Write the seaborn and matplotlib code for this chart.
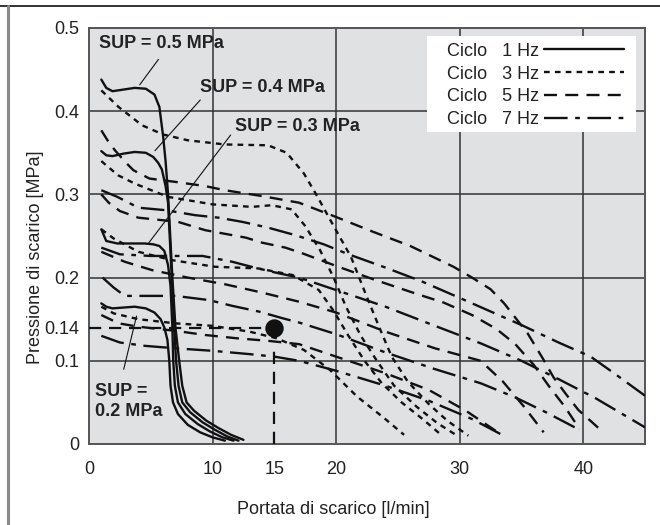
import numpy as np
import pandas as pd
import matplotlib
matplotlib.use("Agg")
import matplotlib.pyplot as plt
from matplotlib.lines import Line2D
from matplotlib.patches import Rectangle
import seaborn as sns

# ---- data ----
# 1 Hz (solid)
s5_x = [1.0, 1.4, 1.9, 2.8, 3.7, 4.6, 5.3, 5.7, 6.0, 6.2, 6.4, 6.75, 7.0, 7.3, 7.55, 7.9, 8.5, 9.5, 10.5, 11.5, 12.5]
s5_y = [0.438, 0.428, 0.424, 0.426, 0.428, 0.427, 0.42, 0.405, 0.37, 0.34, 0.3, 0.2, 0.14, 0.1, 0.07, 0.05, 0.04, 0.028, 0.019, 0.011, 0.005]
s4_x = [1.0, 1.4, 1.9, 2.8, 3.7, 4.6, 5.2, 5.6, 5.9, 6.2, 6.4, 6.7, 6.9, 7.05, 7.25, 7.55, 8.2, 9.2, 10.2, 11.2, 12.1]
s4_y = [0.352, 0.347, 0.346, 0.349, 0.351, 0.35, 0.345, 0.338, 0.33, 0.31, 0.29, 0.2, 0.14, 0.1, 0.07, 0.05, 0.038, 0.026, 0.017, 0.009, 0.004]
s3_x = [1.0, 1.4, 2.3, 3.5, 4.5, 5.2, 5.7, 6.1, 6.4, 6.6, 6.75, 6.82, 6.95, 7.2, 7.8, 8.8, 9.8, 10.8, 11.7]
s3_y = [0.258, 0.244, 0.241, 0.241, 0.241, 0.24, 0.238, 0.232, 0.215, 0.19, 0.14, 0.1, 0.07, 0.05, 0.036, 0.024, 0.015, 0.008, 0.004]
s2_x = [1.0, 1.4, 1.9, 2.8, 3.7, 4.6, 5.3, 5.8, 6.1, 6.35, 6.5, 6.6, 6.8, 7.2, 8.0, 9.0, 10.0, 11.0]
s2_y = [0.169, 0.165, 0.163, 0.164, 0.165, 0.163, 0.158, 0.15, 0.14, 0.125, 0.1, 0.07, 0.05, 0.036, 0.023, 0.014, 0.008, 0.004]

# 3 Hz (dotted)
d5_x = [1.0, 2.4, 4.3, 6.0, 8.0, 11.0, 14.5, 16.0, 17.4, 18.5, 19.8, 21.2, 22.4, 23.5, 24.5, 25.8, 27.5, 29.0, 30.7]
d5_y = [0.425, 0.405, 0.383, 0.372, 0.365, 0.36, 0.359, 0.35, 0.325, 0.297, 0.262, 0.225, 0.18, 0.14, 0.105, 0.075, 0.048, 0.028, 0.01]
d4_x = [1.0, 2.35, 3.7, 6.4, 10.0, 13.2, 14.8, 16.4, 17.5, 18.7, 19.8, 20.8, 22.0, 23.3, 24.7, 26.5, 28.2, 29.8]
d4_y = [0.34, 0.323, 0.313, 0.297, 0.288, 0.285, 0.287, 0.282, 0.262, 0.233, 0.2, 0.165, 0.13, 0.1, 0.07, 0.045, 0.025, 0.01]
d3_x = [1.0, 2.0, 4.0, 6.7, 10.2, 13.7, 16.5, 18.6, 19.8, 21.0, 22.3, 23.7, 25.3, 27.0, 28.5]
d3_y = [0.258, 0.247, 0.231, 0.221, 0.213, 0.211, 0.203, 0.185, 0.16, 0.13, 0.1, 0.073, 0.05, 0.03, 0.011]
d2_x = [1.0, 2.0, 4.0, 7.0, 10.0, 13.0, 15.2, 17.4, 19.5, 21.7, 23.9, 25.5]
d2_y = [0.165, 0.157, 0.15, 0.145, 0.142, 0.135, 0.127, 0.113, 0.089, 0.057, 0.031, 0.011]

# 5 Hz (dashed)
q5_x = [1.0, 1.5, 2.1, 3.0, 3.6, 4.9, 7.0, 9.4, 11.0, 14.0, 17.0, 19.8, 23.0, 26.0, 29.5, 31.0, 32.5, 33.6, 34.6, 35.5, 36.8, 37.6, 38.6, 39.6, 41.4]
q5_y = [0.377, 0.365, 0.353, 0.338, 0.329, 0.319, 0.315, 0.31, 0.305, 0.298, 0.29, 0.274, 0.255, 0.238, 0.213, 0.2, 0.186, 0.169, 0.15, 0.133, 0.101, 0.08, 0.06, 0.041, 0.017]
q4_x = [1.0, 1.6, 2.5, 4.0, 7.2, 9.4, 12.7, 14.0, 15.9, 17.3, 20.0, 23.0, 26.6, 28.7, 31.0, 33.0, 34.5, 36.0, 37.2, 38.5, 39.7]
q4_y = [0.3, 0.29, 0.28, 0.272, 0.267, 0.257, 0.248, 0.242, 0.236, 0.229, 0.214, 0.198, 0.18, 0.17, 0.155, 0.138, 0.12, 0.095, 0.07, 0.045, 0.018]
q3_x = [1.0, 2.9, 5.1, 8.0, 11.0, 14.0, 17.0, 20.0, 24.0, 28.0, 31.7, 33.5, 35.2, 36.8]
q3_y = [0.231, 0.219, 0.209, 0.2, 0.192, 0.182, 0.171, 0.158, 0.135, 0.115, 0.1, 0.075, 0.045, 0.014]
q2_x = [1.0, 2.4, 4.0, 7.0, 9.4, 12.0, 14.5, 17.0, 20.0, 24.0, 27.5, 30.5, 33.3]
q2_y = [0.155, 0.145, 0.141, 0.136, 0.131, 0.127, 0.124, 0.12, 0.105, 0.085, 0.065, 0.04, 0.012]

# 7 Hz (dash-dot)
w5_x = [1.0, 2.3, 4.0, 6.2, 8.6, 10.5, 12.4, 14.5, 16.7, 19.0, 21.0, 24.0, 27.0, 30.4, 33.0, 35.0, 38.0, 40.6, 42.5, 45.0]
w5_y = [0.305, 0.297, 0.284, 0.281, 0.275, 0.272, 0.267, 0.26, 0.251, 0.24, 0.228, 0.212, 0.195, 0.173, 0.156, 0.143, 0.122, 0.105, 0.085, 0.058]
w4_x = [1.0, 2.5, 5.0, 7.0, 9.2, 11.6, 13.4, 15.4, 17.0, 20.0, 24.0, 28.0, 31.7, 35.0, 38.0, 41.0, 45.0]
w4_y = [0.236, 0.228, 0.226, 0.226, 0.226, 0.219, 0.212, 0.205, 0.2, 0.185, 0.165, 0.142, 0.121, 0.1, 0.078, 0.055, 0.02]
w3_x = [1.1, 2.0, 2.9, 5.0, 7.0, 9.7, 11.6, 13.8, 15.7, 17.0, 20.0, 24.0, 28.0, 31.7, 34.5, 37.0, 39.7]
w3_y = [0.2, 0.188, 0.178, 0.178, 0.178, 0.173, 0.166, 0.159, 0.151, 0.146, 0.132, 0.11, 0.09, 0.073, 0.056, 0.038, 0.017]
w2_x = [1.0, 2.5, 4.5, 7.0, 10.0, 13.0, 15.0, 17.0, 20.0, 24.0, 27.5, 31.0, 33.3]
w2_y = [0.13, 0.122, 0.118, 0.115, 0.112, 0.108, 0.105, 0.1, 0.088, 0.07, 0.052, 0.03, 0.012]

freq_labels = ["1 Hz", "3 Hz", "5 Hz", "7 Hz"]
sup_labels = ["0.5", "0.4", "0.3", "0.2"]

point_x = [15]
point_y = [0.14]

x_ticks = [0, 10, 15, 20, 30, 40]
y_ticks = [0, 0.1, 0.14, 0.2, 0.3, 0.4, 0.5]
y_tick_labels = ["0", "0.1", "0.14", "0.2", "0.3", "0.4", "0.5"]
x_grid = [10, 20, 30, 40]
y_grid = [0.1, 0.2, 0.3, 0.4]

curves = {
    ("1 Hz", "0.5"): (s5_x, s5_y), ("1 Hz", "0.4"): (s4_x, s4_y),
    ("1 Hz", "0.3"): (s3_x, s3_y), ("1 Hz", "0.2"): (s2_x, s2_y),
    ("3 Hz", "0.5"): (d5_x, d5_y), ("3 Hz", "0.4"): (d4_x, d4_y),
    ("3 Hz", "0.3"): (d3_x, d3_y), ("3 Hz", "0.2"): (d2_x, d2_y),
    ("5 Hz", "0.5"): (q5_x, q5_y), ("5 Hz", "0.4"): (q4_x, q4_y),
    ("5 Hz", "0.3"): (q3_x, q3_y), ("5 Hz", "0.2"): (q2_x, q2_y),
    ("7 Hz", "0.5"): (w5_x, w5_y), ("7 Hz", "0.4"): (w4_x, w4_y),
    ("7 Hz", "0.3"): (w3_x, w3_y), ("7 Hz", "0.2"): (w2_x, w2_y),
}
rows = []
for (f, s), (xs, ys) in curves.items():
    for xv, yv in zip(xs, ys):
        rows.append({"freq": f, "sup": s, "curve": f + s, "x": xv, "y": yv})
df = pd.DataFrame(rows)

sns.set_theme(style="white")
plt.rcParams["font.family"] = ["Liberation Sans", "DejaVu Sans"]
txt = "#222222"

fig = plt.figure(figsize=(6.6, 5.25), dpi=100)
ax = fig.add_axes([0.1348, 0.1543, 0.8425, 0.7924])
ax.set_facecolor("#e0e1e3")

for g in x_grid:
    ax.axvline(g, color="#333333", lw=1.1, zorder=1)
for g in y_grid:
    ax.axhline(g, color="#333333", lw=1.1, zorder=1)

dash_map = {"1 Hz": "", "3 Hz": (2.4, 2.2), "5 Hz": (5.5, 3.5), "7 Hz": (10, 3.2, 2, 3.2)}
sns.lineplot(data=df, x="x", y="y", units="curve", style="freq", dashes=dash_map,
             estimator=None, sort=False, color="#111111", lw=1.7, legend=False,
             ax=ax, zorder=3)

# reference lines to the operating point
ax.plot([0, point_x[0]], [point_y[0], point_y[0]], color="#111111", lw=1.6,
        dashes=(5.5, 3.5), zorder=3)
ax.plot([point_x[0], point_x[0]], [0, 0.117], color="#111111", lw=1.6,
        dashes=(5.5, 3.5), zorder=3)
ax.scatter(point_x, point_y, s=150, color="#111111", zorder=5)

ax.set_xlim(0, 45)
ax.set_ylim(0, 0.5)
ax.set_xticks(x_ticks)
ax.set_xticklabels([str(t) for t in x_ticks])
ax.set_yticks(y_ticks)
ax.set_yticklabels(y_tick_labels)
ax.tick_params(axis="both", length=0, labelsize=13, colors=txt)
ax.tick_params(axis="x", pad=12)
ax.tick_params(axis="y", pad=7)
for sp in ax.spines.values():
    sp.set_color("#555555")
    sp.set_linewidth(1.4)

ax.set_xlabel("Portata di scarico [l/min]", fontsize=13, color=txt)
ax.set_ylabel("Pressione di scarico [MPa]", fontsize=13, color=txt)
ax.xaxis.set_label_coords(0.44, -0.136)
ax.yaxis.set_label_coords(-0.081, 0.45)

# SUP labels with leader lines
sup_notes = [
    ("SUP = 0.5 MPa", (0.81, 0.481), (5.76, 0.465), (3.97, 0.429)),
    ("SUP = 0.4 MPa", (9.0, 0.428), (9.16, 0.416), (5.19, 0.35)),
    ("SUP = 0.3 MPa", (11.84, 0.382), (11.6, 0.374), (4.7, 0.239)),
    ("SUP =\n0.2 MPa", (0.49, 0.051), (2.76, 0.0865), (3.9, 0.157)),
]
for label, tpos, lstart, lend in sup_notes:
    ax.text(tpos[0], tpos[1], label, fontsize=13, fontweight="bold", color=txt,
            ha="left", va="center", linespacing=1.25, zorder=6)
    ax.annotate("", xy=lend, xytext=lstart,
                arrowprops=dict(arrowstyle="-", lw=0.8, color="#111111"), zorder=6)

# legend: white box behind, text before the line sample
ax.add_patch(Rectangle((0.608, 0.75), 0.376, 0.231, transform=ax.transAxes,
                       facecolor="white", edgecolor="none", zorder=6))
handles = [Line2D([0], [0], color="#111111", lw=1.7, linestyle="-")]
for f in freq_labels[1:]:
    handles.append(Line2D([0], [0], color="#111111", lw=1.7, dashes=dash_map[f]))
leg = ax.legend(handles, ["Ciclo   " + f for f in freq_labels], loc="upper right",
                bbox_to_anchor=(0.962, 0.965), borderaxespad=0, markerfirst=False,
                handlelength=4.4, handletextpad=0.3, labelspacing=0.33,
                borderpad=0, fontsize=13, frameon=False)
for t in leg.get_texts():
    t.set_color(txt)
leg.set_zorder(7)

# outer frame of the picture
fig.add_artist(Line2D([0, 1], [0.9886, 0.9886], color="#222222", lw=1.3))
fig.add_artist(Line2D([0.0128, 0.0128], [0, 0.9886], color="#8a8a8a", lw=2.2))

fig.savefig("out.png", dpi=100)
